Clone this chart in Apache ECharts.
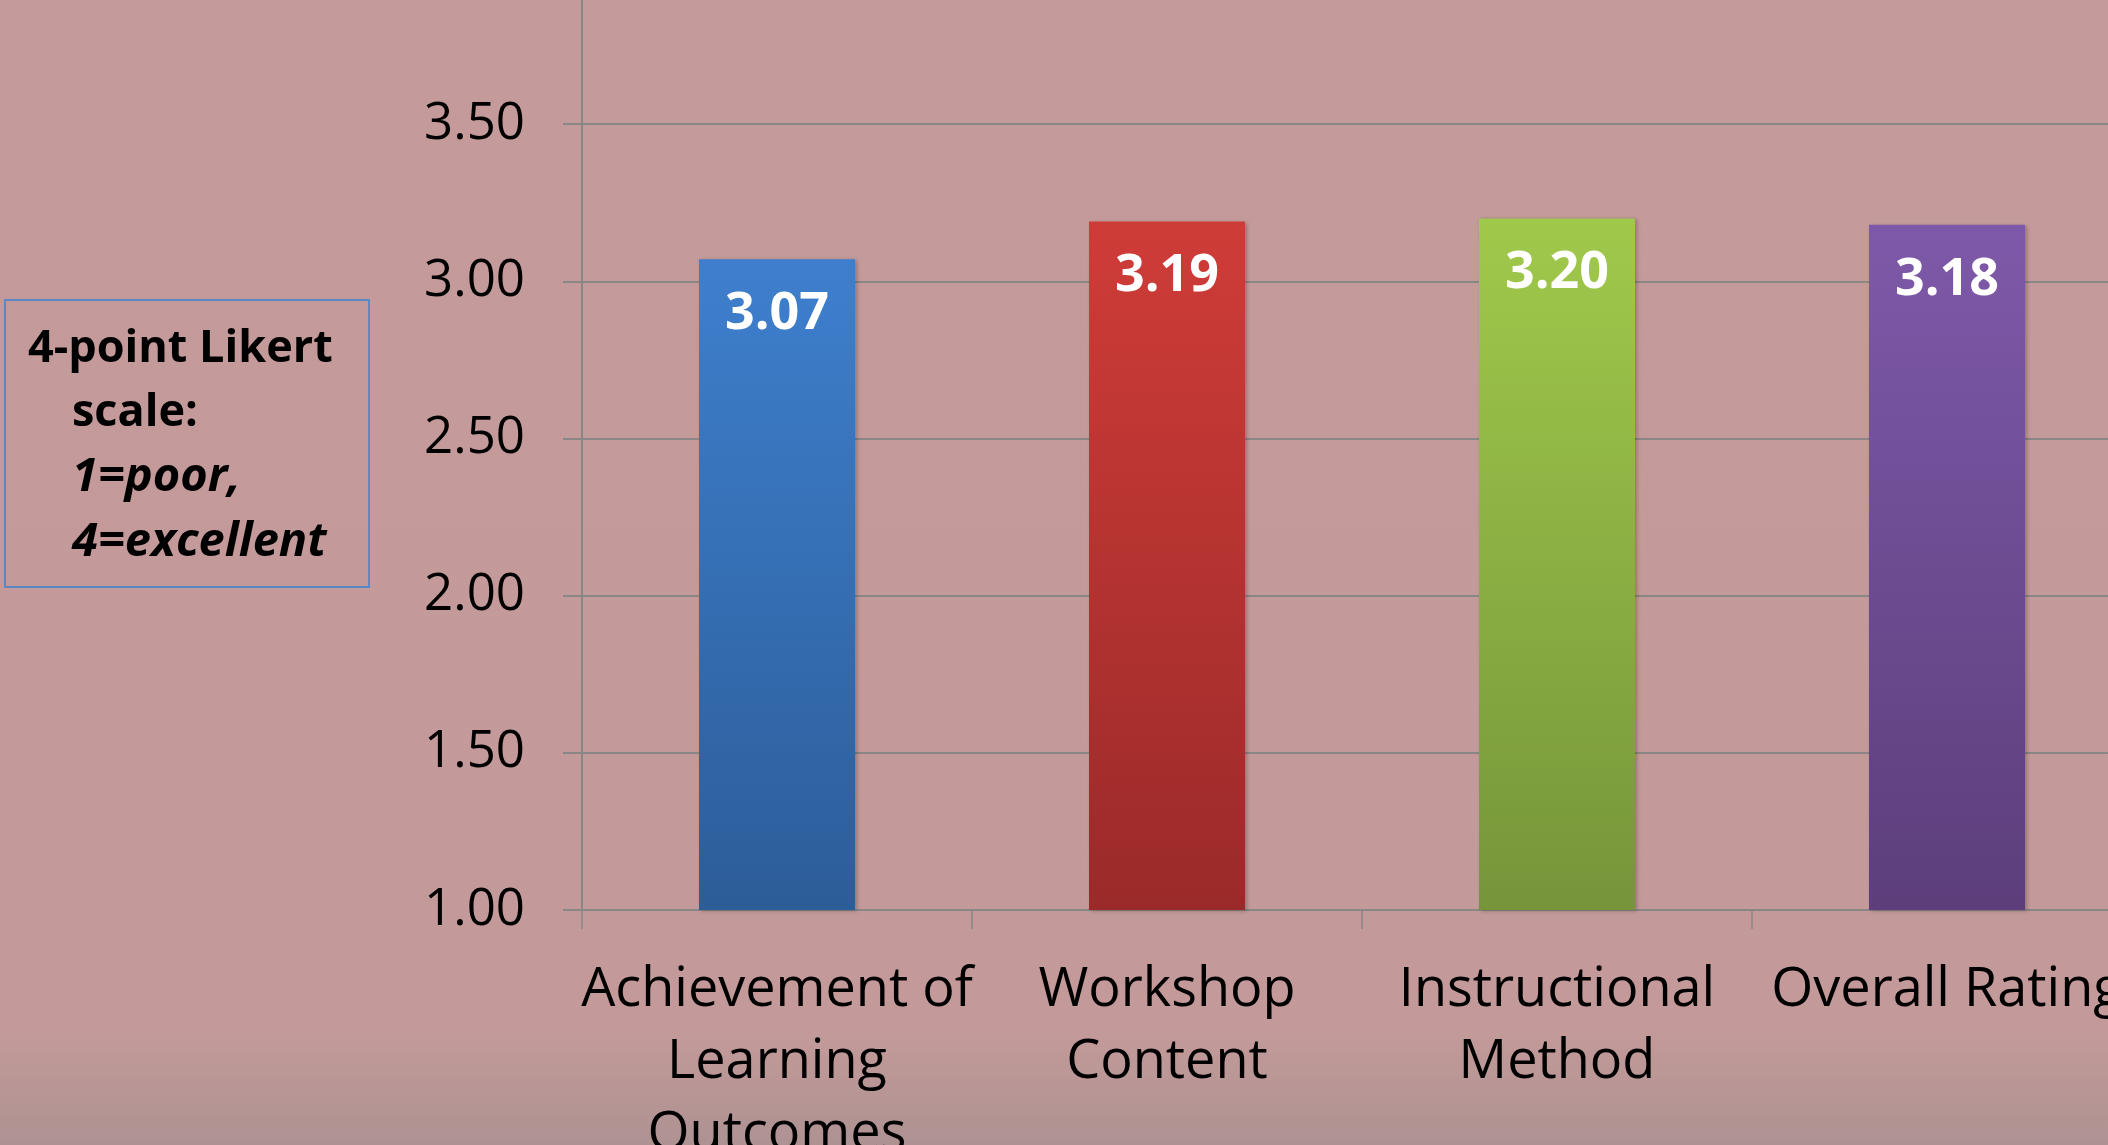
<!DOCTYPE html>
<html>
<head>
<meta charset="utf-8">
<title>Workshop ratings</title>
<script src="https://cdn.jsdelivr.net/npm/echarts@6/dist/echarts.min.js"></script>
<style>
    html, body { margin: 0; padding: 0; }
    #chart { width: 2108px; height: 1145px; }
</style>
</head>
<body>
<div id="chart"></div>
<script>
    // 数据
    var categories = ['Achievement of\nLearning\nOutcomes', 'Workshop\nContent', 'Instructional\nMethod', 'Overall Rating'];
    var values = [3.07, 3.19, 3.20, 3.18];
    var yTicks = [1.00, 1.50, 2.00, 2.50, 3.00, 3.50, 4.00];
    var noteLines = ['4-point Likert', 'scale:', '1=poor,', '4=excellent'];

    var barColors = [
        ['#3e7fcd', '#2c5d99'],
        ['#cf3c38', '#9a2a29'],
        ['#a0c94b', '#76953a'],
        ['#7e59a9', '#5d3e7b']
    ];
    var font = '"Open Sans", sans-serif';
    var gridColor = '#8a8686';

    var chart = echarts.init(document.getElementById('chart'));

    var barData = values.map(function (v, i) {
        return {
            value: v,
            itemStyle: {
                color: new echarts.graphic.LinearGradient(0, 0, 0, 1, [
                    { offset: 0, color: barColors[i][0] },
                    { offset: 1, color: barColors[i][1] }
                ])
            }
        };
    });

    // 左侧说明框
    var noteX = [28, 72, 72, 72];
    var noteGraphics = [{
        type: 'rect',
        shape: { x: 5, y: 300, width: 364, height: 287 },
        style: { fill: 'none', stroke: '#5a88c6', lineWidth: 2 }
    }];
    noteLines.forEach(function (t, i) {
        noteGraphics.push({
            type: 'text',
            x: noteX[i],
            y: 349 + i * 64.5,
            style: {
                text: t,
                fill: '#000',
                font: (i >= 2 ? 'italic bold 47px ' : 'bold 45px ') + font,
                textVerticalAlign: 'middle'
            }
        });
    });

    var option = {
        backgroundColor: {
            type: 'linear', x: 0, y: 0, x2: 0, y2: 1,
            colorStops: [
                { offset: 0, color: '#c49b9a' },
                { offset: 0.9, color: '#c39a99' },
                { offset: 1, color: '#ae9292' }
            ]
        },
        animation: false,
        grid: {
            left: 582,
            top: -33,
            width: 1560,
            height: 943,
            containLabel: false,
            outerBoundsMode: 'none'
        },
        xAxis: {
            type: 'category',
            data: categories,
            axisLine: { show: true, lineStyle: { color: gridColor, width: 2 } },
            axisTick: { show: true, length: 19, lineStyle: { color: gridColor, width: 1.5 } },
            axisLabel: {
                interval: 0,
                margin: 45,
                color: '#000',
                fontFamily: font,
                fontSize: 54,
                lineHeight: 72,
                align: 'center'
            }
        },
        yAxis: {
            type: 'value',
            min: yTicks[0],
            max: yTicks[yTicks.length - 1],
            interval: 0.5,
            axisLine: { show: true, lineStyle: { color: gridColor, width: 2 } },
            axisTick: { show: true, length: 19, lineStyle: { color: gridColor, width: 2 } },
            splitLine: { show: true, lineStyle: { color: gridColor, width: 2 } },
            axisLabel: {
                margin: 57,
                color: '#000',
                fontFamily: font,
                fontSize: 51,
                formatter: function (v) { return v.toFixed(2); }
            }
        },
        series: [{
            type: 'bar',
            data: barData,
            barWidth: 156,
            itemStyle: {
                shadowColor: 'rgba(0,0,0,0.25)',
                shadowBlur: 4,
                shadowOffsetX: 2,
                shadowOffsetY: 1
            },
            label: {
                show: true,
                position: 'insideTop',
                distance: 29,
                color: '#fff',
                fontFamily: font,
                fontWeight: 'bold',
                fontSize: 52,
                lineHeight: 52,
                formatter: function (p) { return p.value.toFixed(2); }
            }
        }],
        graphic: noteGraphics
    };

    chart.setOption(option);

    window.addEventListener('resize', function () {
        chart.resize();
    });
</script>
</body>
</html>
